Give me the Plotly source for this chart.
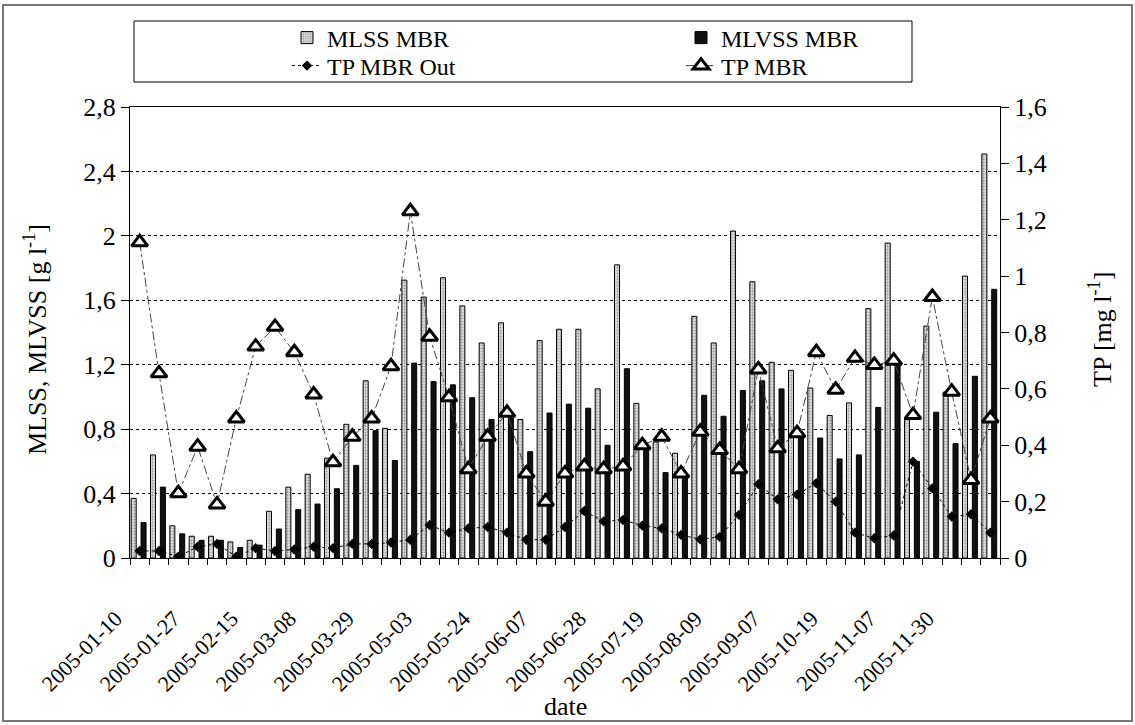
import plotly.graph_objects as go

# ---- data (45 sampling dates; every third one is labelled) ----
tick_labels = ["2005-01-10", "2005-01-27", "2005-02-15", "2005-03-08", "2005-03-29",
               "2005-05-03", "2005-05-24", "2005-06-07", "2005-06-28", "2005-07-19",
               "2005-08-09", "2005-09-07", "2005-10-19", "2005-11-07", "2005-11-30"]

mlss_mbr = [0.37, 0.64, 0.20, 0.135, 0.135, 0.10, 0.11, 0.29, 0.44, 0.52,
            0.62, 0.83, 1.10, 0.805, 1.725, 1.62, 1.74, 1.565, 1.335, 1.46,
            0.86, 1.35, 1.42, 1.42, 1.05, 1.82, 0.96, 0.72, 0.65, 1.50,
            1.335, 2.03, 1.715, 1.215, 1.165, 1.055, 0.885, 0.963, 1.548, 1.955,
            0.87, 1.44, 1.03, 1.75, 2.508]

mlvss_mbr = [0.22, 0.44, 0.15, 0.11, 0.11, 0.065, 0.08, 0.18, 0.30, 0.335,
             0.43, 0.575, 0.79, 0.605, 1.21, 1.095, 1.075, 0.995, 0.86, 0.87,
             0.66, 0.90, 0.955, 0.93, 0.70, 1.175, 0.68, 0.53, 0.50, 1.01,
             0.88, 1.04, 1.10, 1.05, 0.78, 0.745, 0.615, 0.64, 0.935, 1.20,
             0.60, 0.905, 0.71, 1.128, 1.668]

tp_mbr_out = [0.025, 0.025, 0.005, 0.04, 0.05, 0.005, 0.035, 0.025, 0.03, 0.04,
              0.035, 0.05, 0.05, 0.055, 0.065, 0.117, 0.09, 0.105, 0.11, 0.09,
              0.065, 0.065, 0.11, 0.167, 0.13, 0.135, 0.115, 0.105, 0.082, 0.066,
              0.075, 0.153, 0.262, 0.208, 0.225, 0.265, 0.20, 0.09, 0.07, 0.08,
              0.342, 0.247, 0.147, 0.155, 0.09]

tp_mbr = [1.12, 0.655, 0.23, 0.395, 0.19, 0.495, 0.75, 0.82, 0.73, 0.58,
          0.34, 0.43, 0.495, 0.68, 1.23, 0.785, 0.57, 0.315, 0.43, 0.515,
          0.30, 0.20, 0.30, 0.325, 0.315, 0.325, 0.40, 0.43, 0.30, 0.448,
          0.383, 0.315, 0.669, 0.389, 0.443, 0.73, 0.597, 0.71, 0.685, 0.70,
          0.507, 0.926, 0.59, 0.277, 0.495]

x_title = "date"
y_title = "MLSS, MLVSS [g l<sup>-1</sup>]"
y2_title = "TP [mg l<sup>-1</sup>]"

n = len(mlss_mbr)
x = list(range(n))
label_step = 3
tickvals = list(range(0, n, label_step))

FONT = "Liberation Serif"

fig = go.Figure()

fig.add_trace(go.Bar(
    x=x, y=mlss_mbr, name="MLSS MBR", width=0.26, offset=-0.44,
    marker=dict(color="#d0d0d0", line=dict(color="black", width=1),
                pattern=dict(shape=".", fgcolor="#555555", bgcolor="#dcdcdc",
                             size=3, solidity=0.35)),
    legend="legend2"))

fig.add_trace(go.Bar(
    x=x, y=mlvss_mbr, name="MLVSS MBR", width=0.26, offset=0.07,
    marker=dict(color="#111111", line=dict(color="black", width=1)),
    legend="legend3"))

fig.add_trace(go.Scatter(
    x=x, y=tp_mbr_out, name="TP MBR Out", yaxis="y2", mode="lines+markers",
    line=dict(color="black", width=1, dash="dot"),
    marker=dict(symbol="diamond", size=8, color="black"),
    legend="legend4"))

fig.add_trace(go.Scatter(
    x=x, y=tp_mbr, name="TP MBR", yaxis="y2", mode="lines+markers",
    line=dict(color="#444444", width=1, dash="dashdot"),
    marker=dict(symbol="triangle-up", size=14, color="white",
                line=dict(color="black", width=3)),
    legend="legend5"))

# plot area: x 130..1000 px, y 107..558 px
L, R, T, B = 130, 135, 107, 167
W, H = 1135, 725
pw, ph = W - L - R, H - T - B
def px(xp): return (xp - L) / pw
def py(yp): return (H - B - yp) / ph
def cx(xp): return xp / W
def cy(yp): return 1 - yp / H

def leg(xp, yp):
    return dict(xref="container", yref="container", x=cx(xp), y=cy(yp),
                xanchor="left", yanchor="middle", orientation="v",
                bgcolor="rgba(0,0,0,0)", borderwidth=0,
                font=dict(size=24, family=FONT, color="black"))

fig.update_layout(
    width=W, height=H,
    margin=dict(l=L, r=R, t=T, b=B, autoexpand=False),
    paper_bgcolor="white", plot_bgcolor="white",
    separators=", ",
    barmode="overlay",
    font=dict(family=FONT, size=26, color="black"),
    xaxis=dict(
        range=[-0.5, n - 0.5], tickmode="array", tickvals=tickvals,
        ticktext=tick_labels, tickangle=-45, ticks="",
        tickfont=dict(size=22, family=FONT),
        ticklabelshift=-24, ticklabelstandoff=38,
        showline=True, linecolor="black", linewidth=1, mirror=True,
        showgrid=False, zeroline=False,
        minor=dict(ticks="outside", ticklen=6, tick0=-0.5, dtick=1,
                   tickcolor="black", showgrid=False),
    ),
    yaxis=dict(
        range=[0, 2.8], dtick=0.4, tick0=0, ticks="outside", ticklen=8,
        tickcolor="black", tickfont=dict(size=26, family=FONT),
        showline=True, linecolor="black", linewidth=1,
        showgrid=True, gridcolor="black", gridwidth=1, griddash="3px,3px",
        zeroline=False,
    ),
    yaxis2=dict(
        range=[0, 1.6], dtick=0.2, tick0=0, overlaying="y", side="right",
        ticks="outside", ticklen=8, tickcolor="black",
        tickfont=dict(size=26, family=FONT),
        showline=True, linecolor="black", linewidth=1,
        showgrid=False, zeroline=False,
    ),
    legend2=leg(287, 38),
    legend3=leg(681, 38),
    legend4=leg(287, 66),
    legend5=leg(681, 66),
    annotations=[
        dict(text=y_title, xref="paper", yref="paper", x=px(35), y=py(340),
             textangle=-90, showarrow=False, xanchor="center", yanchor="middle",
             font=dict(size=26, family=FONT)),
        dict(text=y2_title, xref="paper", yref="paper", x=px(1100), y=py(330),
             textangle=-90, showarrow=False, xanchor="center", yanchor="middle",
             font=dict(size=26, family=FONT)),
        dict(text=x_title, xref="paper", yref="paper", x=px(565), y=py(706),
             showarrow=False, xanchor="center", yanchor="middle",
             font=dict(size=26, family=FONT)),
    ],
    shapes=[
        dict(type="rect", xref="paper", yref="paper",
             x0=px(3), x1=px(1132), y0=py(721), y1=py(5),
             line=dict(color="#777777", width=2), fillcolor="rgba(0,0,0,0)",
             layer="below"),
        dict(type="rect", xref="paper", yref="paper",
             x0=px(134), x1=px(912), y0=py(82), y1=py(21),
             line=dict(color="black", width=1), fillcolor="rgba(0,0,0,0)",
             layer="below"),
    ],
)

fig.write_html("out.html", config={"displayModeBar": False},
               post_script="document.body.style.margin='0';document.body.style.overflow='hidden';")
